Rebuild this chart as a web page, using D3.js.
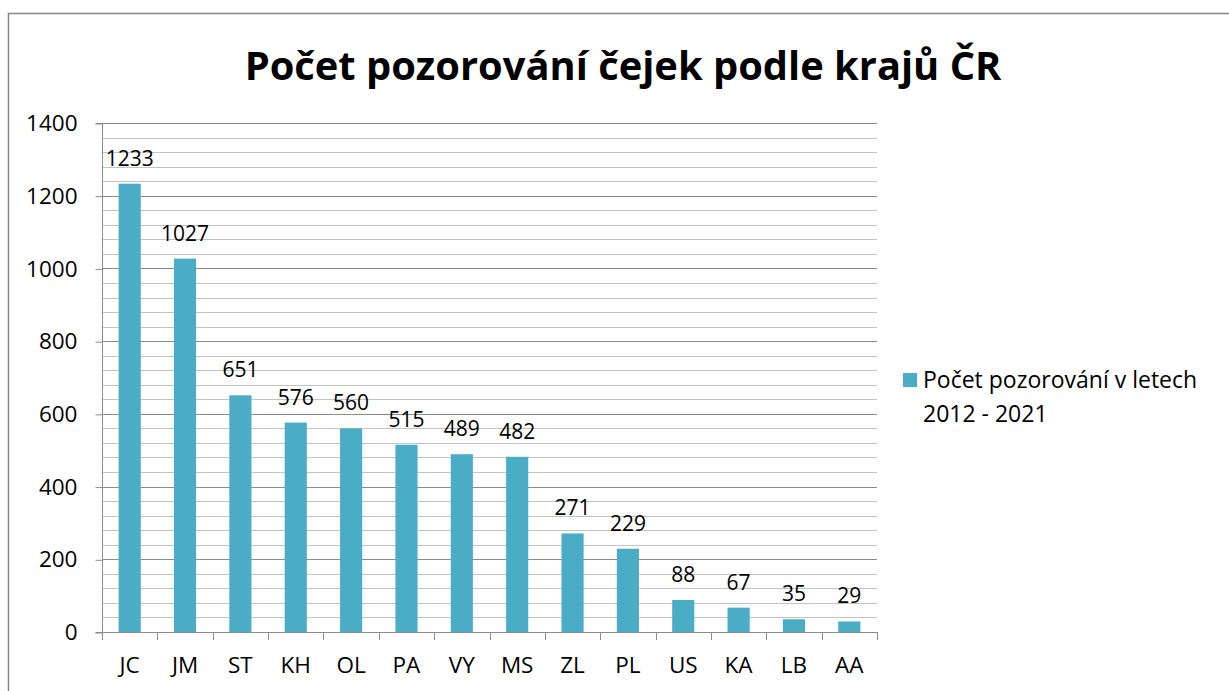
<!DOCTYPE html>
<html>
<head>
<meta charset="utf-8">
<script src="https://cdn.jsdelivr.net/npm/d3@7"></script>
<style>
  body { margin: 0; background: #fff; }
  svg { display: block; font-family: "Open Sans", "Noto Sans", sans-serif; }
</style>
</head>
<body>
<script>
// data
var regions = ['JC', 'JM', 'ST', 'KH', 'OL', 'PA', 'VY', 'MS', 'ZL', 'PL', 'US', 'KA', 'LB', 'AA'];
var counts = [1233, 1027, 651, 576, 560, 515, 489, 482, 271, 229, 88, 67, 35, 29];
var majorTicks = [0, 200, 400, 600, 800, 1000, 1200, 1400];
var titleText = 'Počet pozorování čejek podle krajů ČR';
var legendLines = ['Počet pozorování v letech', '2012 - 2021'];

var w = 1229, h = 691,
	plotLeft = 102, plotRight = 877,
	plotTop = 123, plotBottom = 632,
	barColor = '#4BACC6';

var svg = d3.select('body').append('svg')
	.attr('width', w)
	.attr('height', h);

// chart area frame (only left + top visible in the picture)
svg.append('rect')
	.attr('x', 8.5).attr('y', 13.5)
	.attr('width', 1240).attr('height', 700)
	.attr('fill', 'none')
	.attr('stroke', '#868686')
	.attr('stroke-width', 1.5);

var y = d3.scaleLinear().domain([0, 1400]).range([plotBottom, plotTop]);
var x = d3.scaleBand().domain(regions).range([plotLeft, plotRight])
	.paddingInner(0.6).paddingOuter(0.3);
var xCat = d3.scaleBand().domain(regions).range([plotLeft, plotRight]); // category boundaries

// minor gridlines every 40
var minor = d3.range(0, 1401, 40).filter(function(v) { return v % 200 != 0; });
svg.append('g').selectAll('line')
	.data(minor)
	.enter().append('line')
		.attr('x1', plotLeft).attr('x2', plotRight)
		.attr('y1', function(d) { return Math.round(y(d)) + 0.5; })
		.attr('y2', function(d) { return Math.round(y(d)) + 0.5; })
		.attr('stroke', '#c3c3c3');

// major gridlines
svg.append('g').selectAll('line')
	.data(majorTicks.slice(1))
	.enter().append('line')
		.attr('x1', plotLeft).attr('x2', plotRight)
		.attr('y1', function(d) { return Math.round(y(d)) + 0.5; })
		.attr('y2', function(d) { return Math.round(y(d)) + 0.5; })
		.attr('stroke', '#8c8c8c');

// bars
svg.append('g').selectAll('rect')
	.data(counts)
	.enter().append('rect')
		.attr('x', function(d, i) { return x(regions[i]); })
		.attr('y', function(d) { return y(d); })
		.attr('width', x.bandwidth())
		.attr('height', function(d) { return y(0) - y(d); })
		.attr('fill', barColor);

// value labels
svg.append('g').selectAll('text')
	.data(counts)
	.enter().append('text')
		.attr('x', function(d, i) { return x(regions[i]) + x.bandwidth() / 2; })
		.attr('y', function(d) { return y(d) - 18; })
		.attr('text-anchor', 'middle')
		.attr('font-size', 21)
		.attr('fill', '#000')
		.text(function(d) { return d; });

// y axis
var yAxis = svg.append('g')
	.attr('transform', 'translate(' + (plotLeft + 0.5) + ',0.5)')
	.call(d3.axisLeft(y).tickValues(majorTicks).tickSize(7).tickPadding(18).tickFormat(d3.format('d')));
yAxis.select('.domain').attr('stroke', '#8c8c8c').attr('d', 'M-7,' + Math.round(y(1400)) + 'H0V' + Math.round(y(0)) + 'H-7');
yAxis.selectAll('.tick line').attr('stroke', '#8c8c8c');
yAxis.selectAll('.tick text').attr('font-size', 22.5).attr('fill', '#000').attr('font-family', 'Open Sans');

// x axis: ticks between categories
svg.append('line')
	.attr('x1', plotLeft).attr('x2', plotRight)
	.attr('y1', Math.round(y(0)) + 0.5).attr('y2', Math.round(y(0)) + 0.5)
	.attr('stroke', '#8c8c8c');
var bounds = regions.map(function(r) { return xCat(r); }).concat([plotRight]);
svg.append('g').selectAll('line')
	.data(bounds)
	.enter().append('line')
		.attr('x1', function(d) { return Math.round(d) + 0.5; })
		.attr('x2', function(d) { return Math.round(d) + 0.5; })
		.attr('y1', plotBottom).attr('y2', plotBottom + 8)
		.attr('stroke', '#8c8c8c');
svg.append('g').selectAll('text')
	.data(regions)
	.enter().append('text')
		.attr('x', function(d) { return xCat(d) + xCat.bandwidth() / 2; })
		.attr('y', 673)
		.attr('text-anchor', 'middle')
		.attr('font-size', 22.5)
		.text(function(d) { return d; });

// title
var title = svg.append('text')
	.attr('x', 623).attr('y', 80)
	.attr('text-anchor', 'middle')
	.attr('font-size', 40)
	.attr('font-weight', 'bold')
	.text(titleText);
var tl = title.node().getComputedTextLength();
title.attr('font-size', 40 * 757 / tl);

// legend
svg.append('rect')
	.attr('x', 903).attr('y', 373)
	.attr('width', 14).attr('height', 14)
	.attr('fill', barColor);
svg.append('g').selectAll('text')
	.data(legendLines)
	.enter().append('text')
		.attr('x', 923)
		.attr('y', function(d, i) { return 388 + i * 34; })
		.attr('font-size', 23)
		.text(function(d) { return d; });
</script>
</body>
</html>
